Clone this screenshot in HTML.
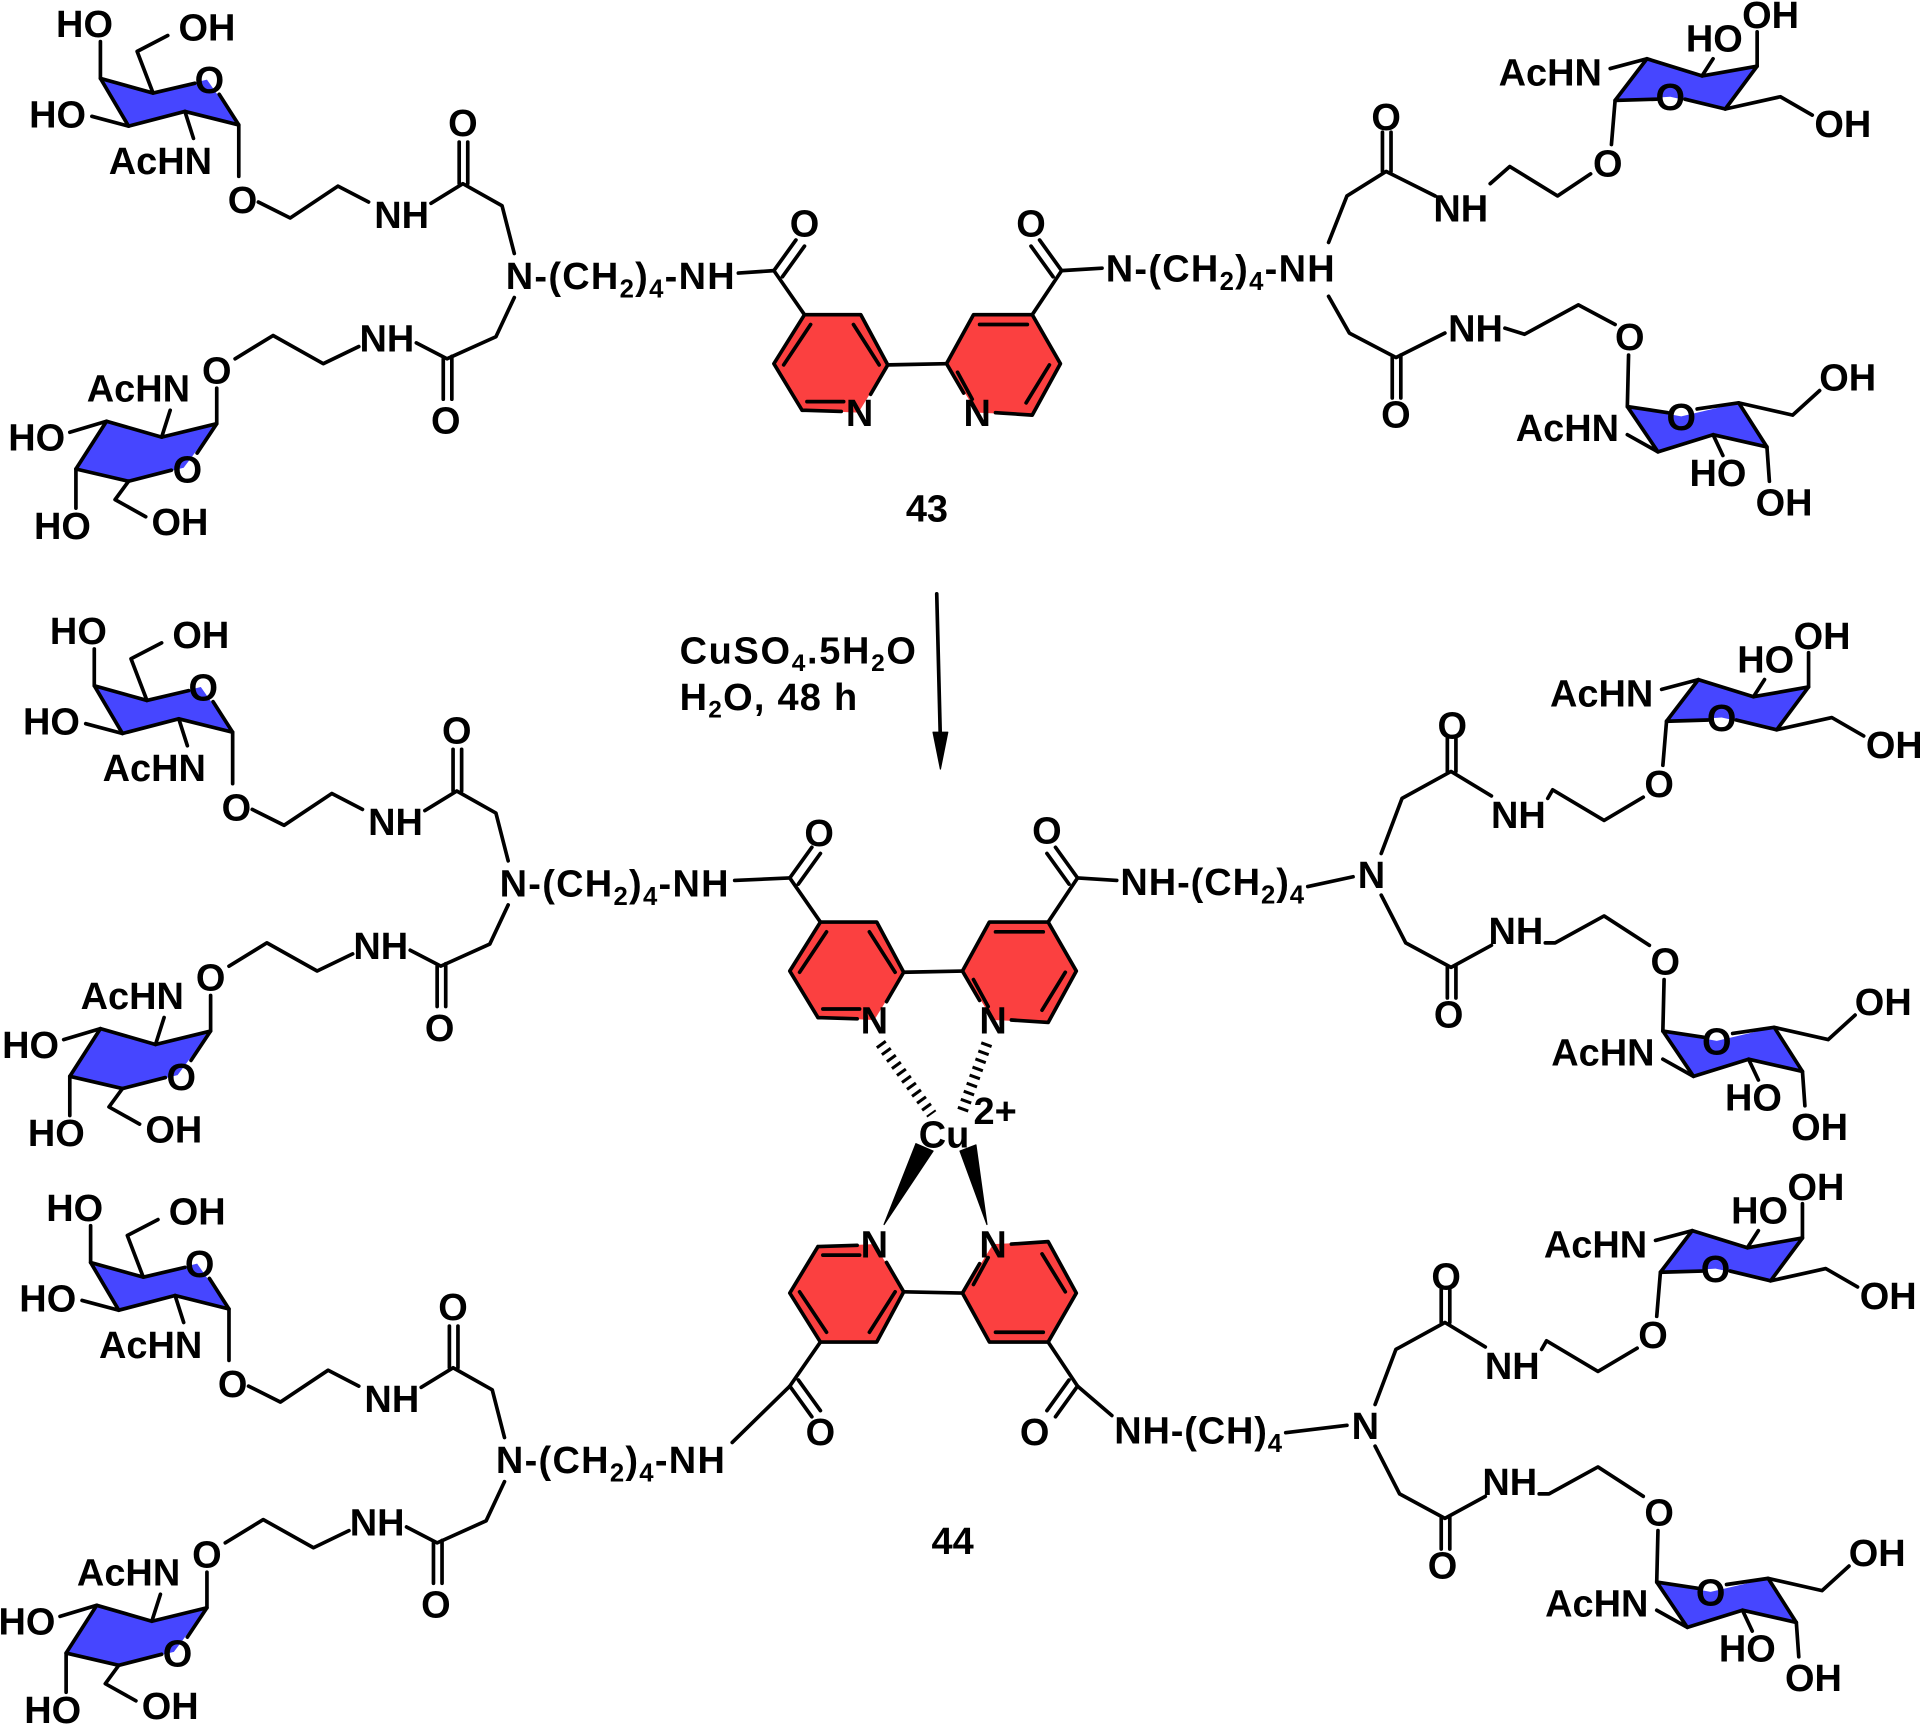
<!DOCTYPE html>
<html><head><meta charset="utf-8"><style>
html,body{margin:0;padding:0;background:#fff}
svg{display:block}
text{font-family:"Liberation Sans",Arial,sans-serif;font-weight:bold;font-size:31px;fill:#000;stroke:none}
.c{text-anchor:middle}
</style></head><body>
<svg width="1920" height="1729" viewBox="0 0 1568 1412" xmlns="http://www.w3.org/2000/svg">
<g stroke="#000" stroke-width="3" fill="none" stroke-linejoin="round" stroke-linecap="round">

<!-- ============ LEFT HALF OF 43 ============ -->
<g>
 <g transform="translate(195,102)">
  <polygon points="-113,-38 -70,-26 -26,-37 0,0 -44,-11 -90,1" fill="#4646ff" stroke="none"/>
  <path d="M-36,-34 L-70,-26 L-113,-38 L-90,1 L-44,-11 L0,0 L-16,-25"/>
  <path d="M-113,-38 L-113,-68 M-70,-26 L-83,-60 L-58,-73 M-90,1 L-120,-7 M-44,-11 L-37,11 M0,0 L0,42"/>
  <text class="c" x="-126" y="-72">HO</text>
  <text class="c" x="-26" y="-69">OH</text>
  <text class="c" x="-148" y="2">HO</text>
  <text class="c" x="-64" y="40">AcHN</text>
  <text class="c" x="-24" y="-26">O</text>
  <text class="c" x="3" y="72">O</text>
 </g>
 <path d="M211,165 L237,178 L276,152 L301,165"/>
 <text class="c" x="328" y="186">NH</text>
 <path d="M352,166 L378,150 L410,168 L420,207"/>
 <path d="M375,150 L375,116 M382,150 L382,116"/>
 <text class="c" x="378" y="111">O</text>
 <text x="413" y="236" textLength="187" lengthAdjust="spacing">N-(CH<tspan font-size="21" dy="7">2</tspan><tspan dy="-7">)</tspan><tspan font-size="21" dy="7">4</tspan><tspan dy="-7">-NH</tspan></text>
 <path d="M420,243 L405,275 L365,293 L340,280"/>
 <path d="M362,293 L362,326 M369,291 L369,326"/>
 <text class="c" x="364" y="354">O</text>
 <text class="c" x="316" y="287">NH</text>
 <path d="M293,283 L264,297 L223,274 L192,293"/>
 <text class="c" x="177" y="313">O</text>
 <g transform="translate(177,346)">
  <polygon points="-115,37 -72,47 -27,36 0,0 -45,11 -90,-2" fill="#4646ff" stroke="none"/>
  <path d="M-37,38 L-72,47 L-115,37 L-90,-2 L-45,11 L0,0 L-16,24"/>
  <path d="M-115,37 L-115,69 M-72,47 L-83,62 L-58,76 M-90,-2 L-120,7 M-45,11 L-38,-11 M0,0 L0,-29"/>
  <text class="c" x="-126" y="94">HO</text>
  <text class="c" x="-30" y="91">OH</text>
  <text class="c" x="-147" y="22">HO</text>
  <text class="c" x="-64" y="-18">AcHN</text>
  <text class="c" x="-24" y="48">O</text>
 </g>
</g>

<!-- 44 upper-left -->
<g transform="translate(-5,496)">
 <g transform="translate(195,102)">
  <polygon points="-113,-38 -70,-26 -26,-37 0,0 -44,-11 -90,1" fill="#4646ff" stroke="none"/>
  <path d="M-36,-34 L-70,-26 L-113,-38 L-90,1 L-44,-11 L0,0 L-16,-25"/>
  <path d="M-113,-38 L-113,-68 M-70,-26 L-83,-60 L-58,-73 M-90,1 L-120,-7 M-44,-11 L-37,11 M0,0 L0,42"/>
  <text class="c" x="-126" y="-72">HO</text>
  <text class="c" x="-26" y="-69">OH</text>
  <text class="c" x="-148" y="2">HO</text>
  <text class="c" x="-64" y="40">AcHN</text>
  <text class="c" x="-24" y="-26">O</text>
  <text class="c" x="3" y="72">O</text>
 </g>
 <path d="M211,165 L237,178 L276,152 L301,165"/>
 <text class="c" x="328" y="186">NH</text>
 <path d="M352,166 L378,150 L410,168 L420,207"/>
 <path d="M375,150 L375,116 M382,150 L382,116"/>
 <text class="c" x="378" y="111">O</text>
 <text x="413" y="236" textLength="187" lengthAdjust="spacing">N-(CH<tspan font-size="21" dy="7">2</tspan><tspan dy="-7">)</tspan><tspan font-size="21" dy="7">4</tspan><tspan dy="-7">-NH</tspan></text>
 <path d="M420,243 L405,275 L365,293 L340,280"/>
 <path d="M362,293 L362,326 M369,291 L369,326"/>
 <text class="c" x="364" y="354">O</text>
 <text class="c" x="316" y="287">NH</text>
 <path d="M293,283 L264,297 L223,274 L192,293"/>
 <text class="c" x="177" y="313">O</text>
 <g transform="translate(177,346)">
  <polygon points="-115,37 -72,47 -27,36 0,0 -45,11 -90,-2" fill="#4646ff" stroke="none"/>
  <path d="M-37,38 L-72,47 L-115,37 L-90,-2 L-45,11 L0,0 L-16,24"/>
  <path d="M-115,37 L-115,69 M-72,47 L-83,62 L-58,76 M-90,-2 L-120,7 M-45,11 L-38,-11 M0,0 L0,-29"/>
  <text class="c" x="-126" y="94">HO</text>
  <text class="c" x="-30" y="91">OH</text>
  <text class="c" x="-147" y="22">HO</text>
  <text class="c" x="-64" y="-18">AcHN</text>
  <text class="c" x="-24" y="48">O</text>
 </g>
</g>

<!-- 44 lower-left -->
<g transform="translate(-8,967)">
 <g transform="translate(195,102)">
  <polygon points="-113,-38 -70,-26 -26,-37 0,0 -44,-11 -90,1" fill="#4646ff" stroke="none"/>
  <path d="M-36,-34 L-70,-26 L-113,-38 L-90,1 L-44,-11 L0,0 L-16,-25"/>
  <path d="M-113,-38 L-113,-68 M-70,-26 L-83,-60 L-58,-73 M-90,1 L-120,-7 M-44,-11 L-37,11 M0,0 L0,42"/>
  <text class="c" x="-126" y="-72">HO</text>
  <text class="c" x="-26" y="-69">OH</text>
  <text class="c" x="-148" y="2">HO</text>
  <text class="c" x="-64" y="40">AcHN</text>
  <text class="c" x="-24" y="-26">O</text>
  <text class="c" x="3" y="72">O</text>
 </g>
 <path d="M211,165 L237,178 L276,152 L301,165"/>
 <text class="c" x="328" y="186">NH</text>
 <path d="M352,166 L378,150 L410,168 L420,207"/>
 <path d="M375,150 L375,116 M382,150 L382,116"/>
 <text class="c" x="378" y="111">O</text>
 <text x="413" y="236" textLength="187" lengthAdjust="spacing">N-(CH<tspan font-size="21" dy="7">2</tspan><tspan dy="-7">)</tspan><tspan font-size="21" dy="7">4</tspan><tspan dy="-7">-NH</tspan></text>
 <path d="M420,243 L405,275 L365,293 L340,280"/>
 <path d="M362,293 L362,326 M369,291 L369,326"/>
 <text class="c" x="364" y="354">O</text>
 <text class="c" x="316" y="287">NH</text>
 <path d="M293,283 L264,297 L223,274 L192,293"/>
 <text class="c" x="177" y="313">O</text>
 <g transform="translate(177,346)">
  <polygon points="-115,37 -72,47 -27,36 0,0 -45,11 -90,-2" fill="#4646ff" stroke="none"/>
  <path d="M-37,38 L-72,47 L-115,37 L-90,-2 L-45,11 L0,0 L-16,24"/>
  <path d="M-115,37 L-115,69 M-72,47 L-83,62 L-58,76 M-90,-2 L-120,7 M-45,11 L-38,-11 M0,0 L0,-29"/>
  <text class="c" x="-126" y="94">HO</text>
  <text class="c" x="-30" y="91">OH</text>
  <text class="c" x="-147" y="22">HO</text>
  <text class="c" x="-64" y="-18">AcHN</text>
  <text class="c" x="-24" y="48">O</text>
 </g>
</g>

<!-- ============ BIPYRIDINES ============ -->
<g transform="translate(-13,-496)">
 <polygon points="670,753 716,753 738,794 714,833 668,831 645,793" fill="#fb4040" stroke="none"/>
 <polygon points="808,753 856,753 879,793 856,835 811,833 786,793" fill="#fb4040" stroke="none"/>
 <path d="M668,831 L645,793 L670,753 L716,753 L738,794 L724,818 M668,831 L700,832"/>
 <path d="M786,793 L808,753 L856,753 L879,793 L856,835 L826,833 M786,793 L800,817"/>
 <path d="M738,794 L786,793"/>
 <path d="M675,761 L653,794 M710,761 L731,794 M672,824 L702,824 M795,800 L807,822 M813,761 L852,761 M870,794 L851,825"/>
 <path d="M670,753 L645,717 M645,717 L663,692 M652,722 L670,697 M856,753 L880,717 M880,717 L862,692 M873,722 L855,697"/>
</g>
<text class="c" x="702" y="348">N</text>
<text class="c" x="798" y="348">N</text>
<text class="c" x="657" y="193">O</text>
<text class="c" x="842" y="193">O</text>
<path d="M603,223 L632,221"/>
<text class="c" x="757" y="426">43</text>

<g>
 <polygon points="670,753 716,753 738,794 714,833 668,831 645,793" fill="#fb4040" stroke="none"/>
 <polygon points="808,753 856,753 879,793 856,835 811,833 786,793" fill="#fb4040" stroke="none"/>
 <path d="M668,831 L645,793 L670,753 L716,753 L738,794 L724,818 M668,831 L700,832"/>
 <path d="M786,793 L808,753 L856,753 L879,793 L856,835 L826,833 M786,793 L800,817"/>
 <path d="M738,794 L786,793"/>
 <path d="M675,761 L653,794 M710,761 L731,794 M672,824 L702,824 M795,800 L807,822 M813,761 L852,761 M870,794 L851,825"/>
 <path d="M670,753 L645,717 M645,717 L663,692 M652,722 L670,697 M856,753 L880,717 M880,717 L862,692 M873,722 L855,697"/>
</g>
<text class="c" x="714" y="844">N</text>
<text class="c" x="811" y="844">N</text>
<text class="c" x="669" y="691">O</text>
<text class="c" x="855" y="689">O</text>
<path d="M600,719 L645,717"/>

<g transform="translate(0,1849) scale(1,-1)">
 <polygon points="670,753 716,753 738,794 714,833 668,831 645,793" fill="#fb4040" stroke="none"/>
 <polygon points="808,753 856,753 879,793 856,835 811,833 786,793" fill="#fb4040" stroke="none"/>
 <path d="M668,831 L645,793 L670,753 L716,753 L738,794 L724,818 M668,831 L700,832"/>
 <path d="M786,793 L808,753 L856,753 L879,793 L856,835 L826,833 M786,793 L800,817"/>
 <path d="M738,794 L786,793"/>
 <path d="M675,761 L653,794 M710,761 L731,794 M672,824 L702,824 M795,800 L807,822 M813,761 L852,761 M870,794 L851,825"/>
 <path d="M670,753 L645,717 M645,717 L663,692 M652,722 L670,697 M856,753 L880,717 M880,717 L862,692 M873,722 L855,697"/>
</g>
<text class="c" x="714" y="1027">N</text>
<text class="c" x="811" y="1027">N</text>
<text class="c" x="670" y="1180">O</text>
<text class="c" x="845" y="1180">O</text>
<path d="M598,1178 L645,1132"/>
<path d="M880,1132 L908,1156"/>
<text class="c" x="778" y="1269">44</text>

<!-- Cu -->
<line x1="719" y1="852" x2="761" y2="910" stroke-width="9" stroke-dasharray="2.5,4.5" stroke-linecap="butt"/>
<line x1="806" y1="852" x2="785" y2="910" stroke-width="9" stroke-dasharray="2.5,4.5" stroke-linecap="butt"/>
<polygon points="748,934 762,940 722,1000" fill="#000" stroke-width="1"/>
<polygon points="784,940 797,935 806,1000" fill="#000" stroke-width="1"/>
<text class="c" x="771" y="937">Cu</text>
<text x="795" y="918" font-size="20">2+</text>

<!-- Arrow + reagents -->
<path d="M765,485 L768,605"/>
<polygon points="768,628 762,598 774,598" fill="#000" stroke-width="1"/>
<text x="555" y="542" font-size="28" textLength="193" lengthAdjust="spacing">CuSO<tspan font-size="20" dy="6">4</tspan><tspan dy="-6">.5H</tspan><tspan font-size="20" dy="6">2</tspan><tspan dy="-6">O</tspan></text>
<text x="555" y="580" font-size="28" textLength="145" lengthAdjust="spacing">H<tspan font-size="20" dy="6">2</tspan><tspan dy="-6">O, 48 h</tspan></text>

<!-- ============ RIGHT OF 43 ============ -->
<path d="M867,221 L900,219"/>
<text x="903" y="230" textLength="187" lengthAdjust="spacing">N-(CH<tspan font-size="21" dy="7">2</tspan><tspan dy="-7">)</tspan><tspan font-size="21" dy="7">4</tspan><tspan dy="-7">-NH</tspan></text>
<path d="M1085,198 L1100,160 L1132,140 L1172,160"/>
<path d="M1129,140 L1129,108 M1136,140 L1136,108"/>
<text class="c" x="1132" y="106">O</text>
<text class="c" x="1193" y="181">NH</text>
<path d="M1217,150 L1233,136 L1272,160 L1299,142"/>
<text class="c" x="1313" y="144">O</text>
<path d="M1085,242 L1102,272 L1140,292 L1180,272"/>
<path d="M1137,292 L1137,325 M1144,290 L1144,325"/>
<text class="c" x="1140" y="349">O</text>
<text class="c" x="1205" y="279">NH</text>
<path d="M1229,268 L1245,273 L1289,249 L1319,265"/>
<text class="c" x="1331" y="286">O</text>
<g transform="translate(1319,82)">
 <polygon points="0,0 26,-34 71,-20 116,-28 90,7 45,-3" fill="#4646ff" stroke="none"/>
 <path d="M34,-1 L0,0 L26,-34 L71,-20 L116,-28 L90,7 L57,-1"/>
 <path d="M26,-34 L-4,-26 M71,-20 L80,-34 M116,-28 L116,-56 M90,7 L135,-3 L161,12 M0,0 L-3,36"/>
 <text class="c" x="-53" y="-12">AcHN</text>
 <text class="c" x="81" y="-40">HO</text>
 <text class="c" x="127" y="-59">OH</text>
 <text class="c" x="186" y="30">OH</text>
 <text class="c" x="45" y="8">O</text>
</g>
<g transform="translate(1329,332)">
 <polygon points="0,0 44,8 91,-3 114,33 70,23 25,37" fill="#4646ff" stroke="none"/>
 <path d="M33,5 L0,0 L25,37 L70,23 L114,33 L91,-3 L57,2"/>
 <path d="M25,37 L0,23 M70,23 L78,40 M114,33 L116,61 M91,-3 L135,7 L157,-13 M0,0 L1,-42"/>
 <text class="c" x="-49" y="28">AcHN</text>
 <text class="c" x="74" y="65">HO</text>
 <text class="c" x="128" y="89">OH</text>
 <text class="c" x="180" y="-13">OH</text>
 <text class="c" x="44" y="19">O</text>
</g>

<!-- ============ RIGHT OF 44 (upper) ============ -->
<path d="M880,717 L912,719"/>
<text x="915" y="731" textLength="150" lengthAdjust="spacing">NH-(CH<tspan font-size="21" dy="7">2</tspan><tspan dy="-7">)</tspan><tspan font-size="21" dy="7">4</tspan></text>
<path d="M1068,724 L1105,716"/>
<g>
 <text class="c" x="1120" y="725">N</text>
 <path d="M1128,697 L1145,652 L1185,630 L1218,650"/>
 <path d="M1182,630 L1182,603 M1189,630 L1189,603"/>
 <text class="c" x="1186" y="603">O</text>
 <text class="c" x="1240" y="676">NH</text>
 <path d="M1264,652 L1268,645 L1310,670 L1342,651"/>
 <text class="c" x="1355" y="651">O</text>
 <path d="M1128,731 L1148,770 L1185,790 L1218,772"/>
 <path d="M1182,790 L1182,815 M1189,788 L1189,815"/>
 <text class="c" x="1183" y="839">O</text>
 <text class="c" x="1238" y="771">NH</text>
 <path d="M1262,770 L1270,770 L1310,748 L1347,772"/>
 <text class="c" x="1360" y="796">O</text>
 <g transform="translate(1361,589)">
  <polygon points="0,0 26,-34 71,-20 116,-28 90,7 45,-3" fill="#4646ff" stroke="none"/>
  <path d="M34,-1 L0,0 L26,-34 L71,-20 L116,-28 L90,7 L57,-1"/>
  <path d="M26,-34 L-4,-26 M71,-20 L80,-34 M116,-28 L116,-56 M90,7 L135,-3 L161,12 M0,0 L-3,36"/>
  <text class="c" x="-53" y="-12">AcHN</text>
  <text class="c" x="81" y="-40">HO</text>
  <text class="c" x="127" y="-59">OH</text>
  <text class="c" x="186" y="30">OH</text>
  <text class="c" x="45" y="8">O</text>
 </g>
 <g transform="translate(1358,842)">
  <polygon points="0,0 44,8 91,-3 114,33 70,23 25,37" fill="#4646ff" stroke="none"/>
  <path d="M33,5 L0,0 L25,37 L70,23 L114,33 L91,-3 L57,2"/>
  <path d="M25,37 L0,23 M70,23 L78,40 M114,33 L116,61 M91,-3 L135,7 L157,-13 M0,0 L1,-42"/>
  <text class="c" x="-49" y="28">AcHN</text>
  <text class="c" x="74" y="65">HO</text>
  <text class="c" x="128" y="89">OH</text>
  <text class="c" x="180" y="-13">OH</text>
  <text class="c" x="44" y="19">O</text>
 </g>
</g>

<!-- ============ RIGHT OF 44 (lower) ============ -->
<text x="910" y="1179" textLength="137" lengthAdjust="spacing">NH-(CH)<tspan font-size="21" dy="7">4</tspan></text>
<path d="M1050,1170 L1100,1164"/>
<g transform="translate(-5,450)">
 <text class="c" x="1120" y="725">N</text>
 <path d="M1128,697 L1145,652 L1185,630 L1218,650"/>
 <path d="M1182,630 L1182,603 M1189,630 L1189,603"/>
 <text class="c" x="1186" y="603">O</text>
 <text class="c" x="1240" y="676">NH</text>
 <path d="M1264,652 L1268,645 L1310,670 L1342,651"/>
 <text class="c" x="1355" y="651">O</text>
 <path d="M1128,731 L1148,770 L1185,790 L1218,772"/>
 <path d="M1182,790 L1182,815 M1189,788 L1189,815"/>
 <text class="c" x="1183" y="839">O</text>
 <text class="c" x="1238" y="771">NH</text>
 <path d="M1262,770 L1270,770 L1310,748 L1347,772"/>
 <text class="c" x="1360" y="796">O</text>
 <g transform="translate(1361,589)">
  <polygon points="0,0 26,-34 71,-20 116,-28 90,7 45,-3" fill="#4646ff" stroke="none"/>
  <path d="M34,-1 L0,0 L26,-34 L71,-20 L116,-28 L90,7 L57,-1"/>
  <path d="M26,-34 L-4,-26 M71,-20 L80,-34 M116,-28 L116,-56 M90,7 L135,-3 L161,12 M0,0 L-3,36"/>
  <text class="c" x="-53" y="-12">AcHN</text>
  <text class="c" x="81" y="-40">HO</text>
  <text class="c" x="127" y="-59">OH</text>
  <text class="c" x="186" y="30">OH</text>
  <text class="c" x="45" y="8">O</text>
 </g>
 <g transform="translate(1358,842)">
  <polygon points="0,0 44,8 91,-3 114,33 70,23 25,37" fill="#4646ff" stroke="none"/>
  <path d="M33,5 L0,0 L25,37 L70,23 L114,33 L91,-3 L57,2"/>
  <path d="M25,37 L0,23 M70,23 L78,40 M114,33 L116,61 M91,-3 L135,7 L157,-13 M0,0 L1,-42"/>
  <text class="c" x="-49" y="28">AcHN</text>
  <text class="c" x="74" y="65">HO</text>
  <text class="c" x="128" y="89">OH</text>
  <text class="c" x="180" y="-13">OH</text>
  <text class="c" x="44" y="19">O</text>
 </g>
</g>

</g>
</svg>
</body></html>
